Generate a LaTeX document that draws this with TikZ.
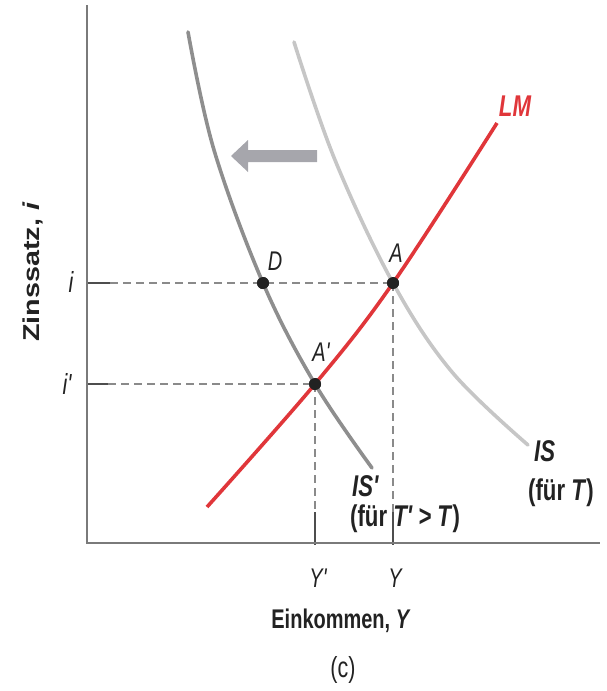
\documentclass[tikz,border=0pt]{standalone}
\usepackage{fontspec}
\setmainfont{Liberation Sans}
\newfontfamily\hfont{Liberation Sans}[FakeStretch=0.74]
\newfontfamily\vfont{Liberation Sans}[FakeStretch=1.25]
\definecolor{isdark}{HTML}{8E8E8E}
\definecolor{islight}{HTML}{C6C6C6}
\definecolor{lmred}{HTML}{E0363A}
\definecolor{axisgray}{HTML}{7A7A7A}
\definecolor{dashgray}{HTML}{8A8A8A}
\definecolor{dotblack}{HTML}{222222}
\definecolor{arrowgray}{HTML}{A6A6AC}
\definecolor{txt}{HTML}{222222}
\tikzset{
  axisline/.style={draw=axisgray, line width=1.5pt},
  guide/.style={draw=dashgray, line width=1.2pt, dash pattern=on 8pt off 5pt},
  guidesolid/.style={draw=dotblack!80, line width=1.2pt},
  curve/.style={line width=3.6pt, line cap=round},
  eqdot/.style={circle, fill=dotblack, inner sep=0pt, minimum size=12pt},
  lbl/.style={inner sep=0pt, text=txt, font=\hfont\fontsize{27}{30}\selectfont\itshape},
  big/.style={inner sep=0pt, text=txt, font=\hfont\fontsize{30}{33}\selectfont\bfseries},
  bigit/.style={inner sep=0pt, text=txt, font=\hfont\fontsize{30}{33}\selectfont\bfseries\itshape},
}
\begin{document}
\begin{tikzpicture}[x=1pt, y=-1pt]
\useasboundingbox (0,0) rectangle (606,691);
% guides
\draw[guidesolid] (87,283) -- (110,283);
\draw[guidesolid] (87,384) -- (108,384);
\coordinate (ia) at (110,283);
\coordinate (ib) at (108,384);
\coordinate (ya) at (393,512);
\coordinate (yb) at (315,512);
\coordinate (yat) at (393,545);
\coordinate (ybt) at (315,545);
\node[eqdot] (D) at (263,283) {};
\node[eqdot] (A) at (393,283) {};
\node[eqdot] (Ap) at (315,384) {};
\draw[guide] (ia) -- (A.center);
\draw[guide] (ib) -- (Ap.center);
\draw[guide] (A.center) -- (ya);
\draw[guide] (Ap.center) -- (yb);
\draw[guidesolid] (ya) -- (yat);
\draw[guidesolid] (yb) -- (ybt);
% axes
\coordinate (o) at (87,543);
\coordinate (ytop) at (87,5);
\coordinate (xend) at (600,543);
\draw[axisline] (ytop) -- (o) -- (xend);
% curves
\draw[curve, islight] plot[smooth, tension=0.6] coordinates {(294,42) (335,160) (393,283) (452,372) (528,445)};
\draw[curve, isdark] plot[smooth, tension=0.6] coordinates {(188,32) (214,150) (263,283) (315,384) (372,468)};
\draw[curve, lmred, line cap=butt] plot[smooth, tension=0.6] coordinates {(207,507) (315,384) (393,283) (497,123)};
% dots on top
\node[eqdot] at (263,283) {};
\node[eqdot] at (393,283) {};
\node[eqdot] at (315,384) {};
% shift arrow
\fill[arrowgray] (317,150) -- (248,150) -- (248,140) -- (231,156) -- (248,172) -- (248,162) -- (317,162) -- cycle;
% labels
\node[lbl] (lD) at (275,261) {D};
\node[lbl] (lA) at (396,253) {A};
\node[lbl] (lAp) at (321,352) {A'};
\node[bigit, text=lmred] (lLM) at (515,106) {LM};
\node[bigit, anchor=west] (lISp) at (352,486) {IS'};
\node[big, anchor=west] (lISpf) at (350,519) {(für \textit{T' > T})};
\node[bigit, anchor=west] (lIS) at (534,451) {IS};
\node[big, anchor=west] (lISf) at (528,493) {(für \textit{T})};
\node[lbl, font=\hfont\fontsize{29}{32}\selectfont\itshape] (li) at (71,282) {i};
\node[lbl, font=\hfont\fontsize{29}{32}\selectfont\itshape] (lip) at (67,384) {i'};
\node[lbl] (lYp) at (318,578) {Y'};
\node[lbl] (lY) at (395,578) {Y};
\node[inner sep=0pt, text=txt, font=\hfont\fontsize{27}{30}\selectfont\bfseries] (lx) at (341,621) {Einkommen, \textit{Y}};
\node[inner sep=0pt, text=txt, rotate=90, font=\vfont\fontsize{23}{26}\selectfont\bfseries] (ly) at (33,272) {Zinssatz, \textit{i}};
\node[inner sep=0pt, text=txt, font=\hfont\fontsize{29}{32}\selectfont] (lc) at (343,670) {(c)};
\end{tikzpicture}
\end{document}
